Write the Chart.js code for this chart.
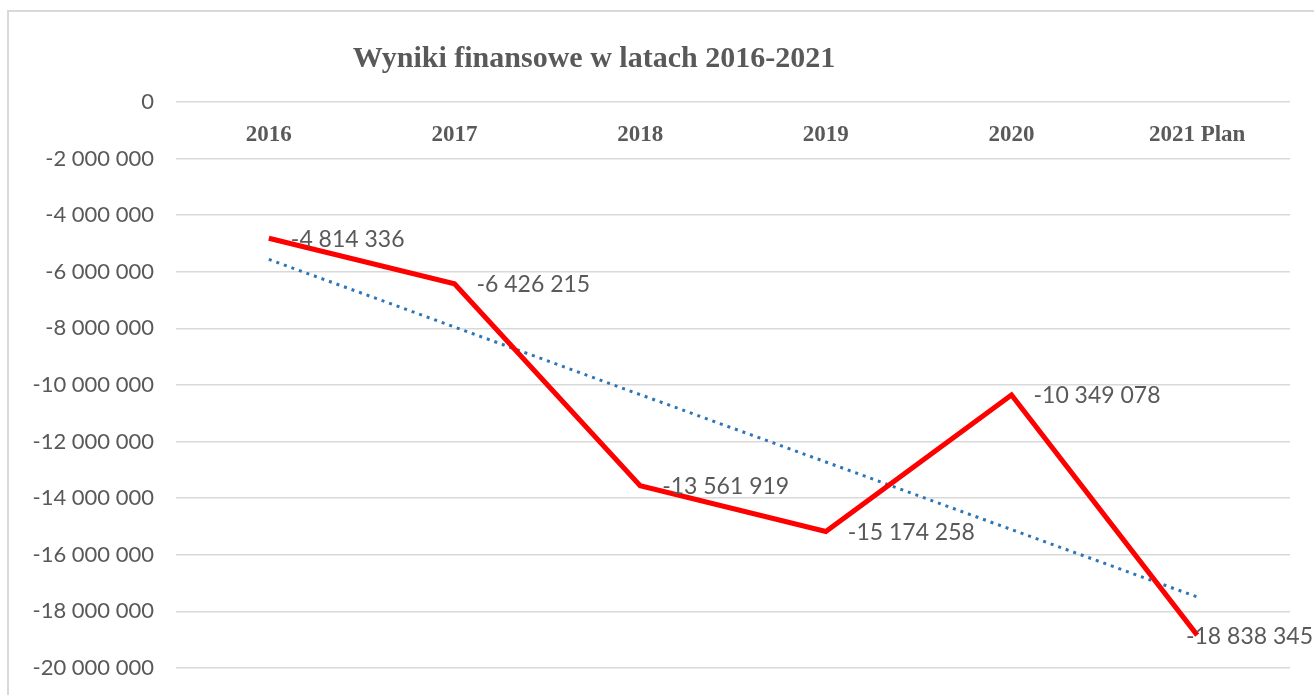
<!DOCTYPE html>
<html>
<head>
<meta charset="utf-8">
<script src="https://cdn.jsdelivr.net/npm/chart.js@4.4.1/dist/chart.umd.min.js"></script>
<style>
  html, body { margin: 0; padding: 0; background: #fff; overflow: hidden; }
  #wrap { position: relative; width: 1314px; height: 695px; }
  #frame { position: absolute; left: 7px; top: 10px; width: 1320px; height: 700px; border: 2px solid #d9d9d9; box-sizing: border-box; }
  canvas { position: absolute; left: 0; top: 0; }
</style>
</head>
<body>
<div id="wrap">
  <div id="frame"></div>
  <canvas id="c" width="1314" height="695"></canvas>
</div>
<script>
const title = 'Wyniki finansowe w latach 2016-2021';
const categories = ['2016', '2017', '2018', '2019', '2020', '2021 Plan'];
const results = [-4814336, -6426215, -13561919, -15174258, -10349078, -18838345];
// linear trend line
const trend = [-5560000, -7950000, -10340000, -12720000, -15110000, -17490000];
const yTicks = { min: -20000000, max: 0, step: 2000000 };

function fmt(v) {
  const s = Math.abs(Math.round(v)).toString().replace(/\B(?=(\d{3})+(?!\d))/g, ' ');
  return (v < 0 ? '-' : '') + s;
}

const labelFont = '23px Lato';
const grey = '#595959';

const titlePlugin = {
  id: 'customTitle',
  afterDraw(chart) {
    const ctx = chart.ctx;
    ctx.save();
    ctx.font = 'bold 30px "Liberation Serif"';
    ctx.fillStyle = grey;
    ctx.textAlign = 'center';
    ctx.textBaseline = 'alphabetic';
    ctx.fillText(title, 594, 67);
    ctx.restore();
  }
};

const dataLabels = {
  id: 'dataLabels',
  afterDatasetsDraw(chart) {
    const ctx = chart.ctx;
    const meta = chart.getDatasetMeta(0);
    ctx.save();
    ctx.font = labelFont;
    ctx.fillStyle = grey;
    ctx.textAlign = 'left';
    ctx.textBaseline = 'middle';
    meta.data.forEach((pt, i) => {
      const txt = fmt(results[i]);
      const w = ctx.measureText(txt).width;
      let x = pt.x + 22;
      if (x + w > chart.width - 1) x = chart.width - 1 - w;
      ctx.fillText(txt, x, pt.y + 1);
    });
    ctx.restore();
  }
};

new Chart(document.getElementById('c'), {
  type: 'line',
  data: {
    labels: categories,
    datasets: [
      {
        label: 'Wynik',
        data: results,
        borderColor: '#ff0000',
        borderWidth: 5,
        pointRadius: 0,
        tension: 0,
        order: 1
      },
      {
        label: 'Trend',
        data: trend,
        borderColor: '#2e75b6',
        borderWidth: 3,
        borderDash: [3, 5],
        pointRadius: 0,
        tension: 0,
        order: 2
      }
    ]
  },
  options: {
    responsive: false,
    animation: false,
    layout: { padding: { top: 102, right: 24, bottom: 27, left: 0 } },
    plugins: {
      legend: { display: false },
      title: { display: false },
      tooltip: { enabled: false }
    },
    scales: {
      x: {
        position: { y: 0 },
        offset: true,
        grid: { display: false },
        border: { display: false },
        ticks: {
          color: grey,
          font: { family: 'Liberation Serif', size: 23, weight: 'bold' },
          padding: 11,
          maxRotation: 0
        }
      },
      y: {
        min: yTicks.min,
        max: yTicks.max,
        afterFit(scale) { scale.width = 176; scale.paddingTop = 0; scale.paddingBottom = 0; },
        grid: { color: '#d9d9d9', lineWidth: 1.5, drawTicks: false },
        border: { display: false },
        ticks: {
          stepSize: yTicks.step,
          color: grey,
          font: { family: 'Lato', size: 22 },
          padding: 22,
          callback: v => fmt(v)
        }
      }
    }
  },
  plugins: [titlePlugin, dataLabels]
});
</script>
</body>
</html>
